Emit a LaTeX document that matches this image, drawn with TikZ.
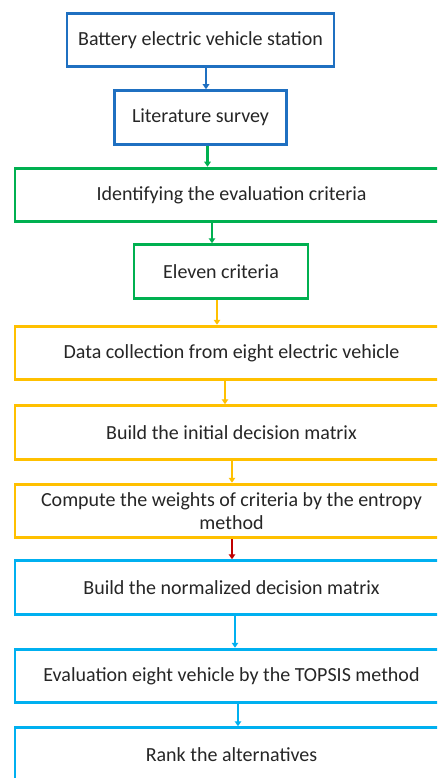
\documentclass[tikz,border=0pt]{standalone}
\usepackage{fontspec}
\setmainfont{Carlito}
\usetikzlibrary{arrows.meta, positioning}

\definecolor{darkblue}{HTML}{1F70C1}
\definecolor{critgreen}{HTML}{00B050}
\definecolor{datayellow}{HTML}{FFC000}
\definecolor{arrowred}{HTML}{C00000}
\definecolor{lightblue}{HTML}{00B0F0}

\begin{document}
\begin{tikzpicture}[
  box/.style={draw, rectangle, line width=2.8pt, align=center, minimum height=53.7pt,
    text=black!85, font=\fontsize{20}{23}\selectfont, fill=white},
  widebox/.style={box, minimum width=433pt},
  arrow/.style={-{Triangle[length=5pt, width=6.5pt]}, line width=2.2pt}
]
\useasboundingbox (0,0) rectangle (437pt,-778pt);
\clip (0,0) rectangle (437pt,-778pt);

% Boxes
\node[box, draw=darkblue, minimum width=267pt] (station) at (200.5pt,-40pt) {Battery electric vehicle station};
\node[box, draw=darkblue, minimum width=172pt, below=21pt of station] (survey) {Literature survey};
\node[widebox, draw=critgreen, below=21pt of survey, xshift=31pt] (identify) {Identifying the evaluation criteria};
\node[box, draw=critgreen, minimum width=174pt, below=20pt of identify, xshift=-10.5pt] (eleven) {Eleven criteria};
\node[widebox, draw=datayellow, below=25pt of eleven, xshift=10.5pt] (collect) {Data collection from eight electric vehicle};
\node[widebox, draw=datayellow, below=23pt of collect] (initial) {Build the initial decision matrix};
\node[widebox, draw=datayellow, below=22pt of initial] (weights) {Compute the weights of criteria by the entropy\\method};
\node[widebox, draw=lightblue, below=20pt of weights] (normal) {Build the normalized decision matrix};
\node[widebox, draw=lightblue, below=32pt of normal] (topsis) {Evaluation eight vehicle by the TOPSIS method};
\node[widebox, draw=lightblue, below=22pt of topsis] (rank) {Rank the alternatives};

% Arrows
\draw[arrow, darkblue] ([xshift=5.5pt]station.south) -- ([xshift=5.5pt]station.south |- survey.north);
\draw[arrow, critgreen] ([xshift=7pt]survey.south) -- ([xshift=7pt]survey.south |- identify.north);
\draw[arrow, critgreen] ([xshift=-19.5pt]identify.south) -- ([xshift=-19.5pt]identify.south |- eleven.north);
\draw[arrow, datayellow] ([xshift=-4pt]eleven.south) -- ([xshift=-4pt]eleven.south |- collect.north);
\draw[arrow, datayellow] ([xshift=-6.5pt]collect.south) -- ([xshift=-6.5pt]collect.south |- initial.north);
\draw[arrow, datayellow] ([xshift=0.5pt]initial.south) -- ([xshift=0.5pt]initial.south |- weights.north);
\draw[arrow, arrowred] ([xshift=0.5pt]weights.south) -- ([xshift=0.5pt]weights.south |- normal.north);
\draw[arrow, lightblue] ([xshift=3.5pt]normal.south) -- ([xshift=3.5pt]normal.south |- topsis.north);
\draw[arrow, lightblue] ([xshift=6.5pt]topsis.south) -- ([xshift=6.5pt]topsis.south |- rank.north);

\end{tikzpicture}
\end{document}
